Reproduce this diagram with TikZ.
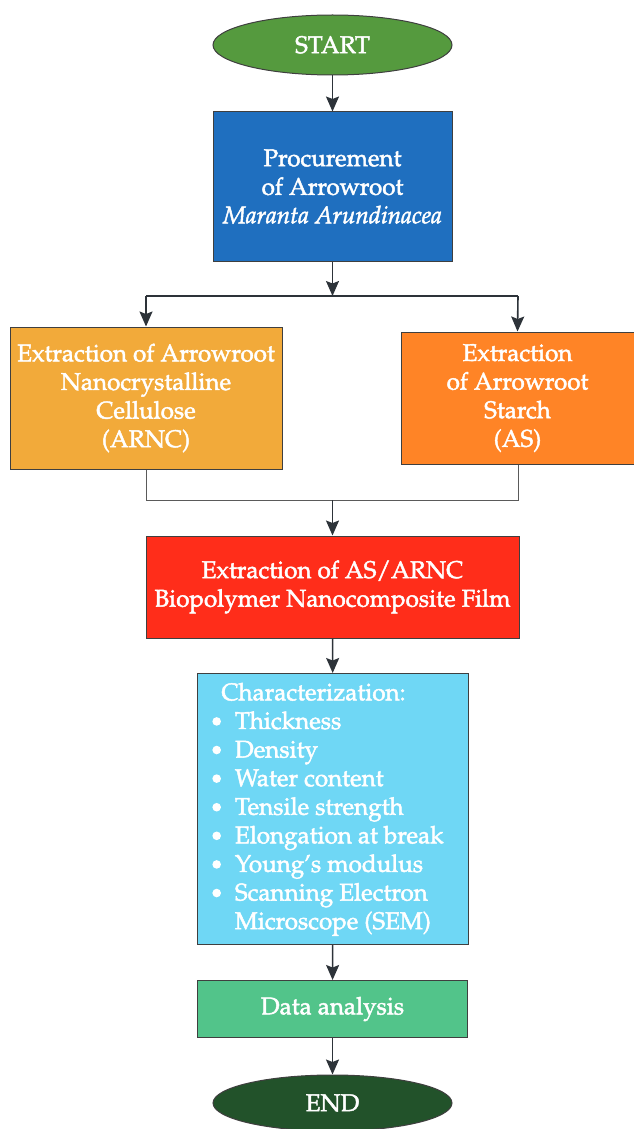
\documentclass[tikz,border=0pt]{standalone}
\usepackage[T1]{fontenc}
\usepackage{mathpazo}
\usetikzlibrary{shapes.geometric,arrows.meta}
\definecolor{cstart}{HTML}{559A3E}
\definecolor{cproc}{HTML}{1F6FBF}
\definecolor{carnc}{HTML}{F2AA3A}
\definecolor{cas}{HTML}{FF8426}
\definecolor{cfilm}{HTML}{FF2D1A}
\definecolor{cchar}{HTML}{6FD7F5}
\definecolor{cdata}{HTML}{52C48A}
\definecolor{cend}{HTML}{22522A}
\definecolor{cedge}{HTML}{3F3F3F}
\definecolor{carrow}{HTML}{2D3339}
\definecolor{cmerge}{HTML}{5A5A5A}
\newcommand\heavytext{\special{pdf:literal direct 2 Tr 0.45 w}}
\newcommand\bigbul{\tikz[baseline=0pt]{\fill[white] (0pt,7.5pt) circle (4.3pt);}}
\tikzset{
  box/.style={draw=cedge, line width=1pt, rectangle, inner sep=0pt, text=white, align=center,
    font=\fontsize{24.2}{28.6}\selectfont\heavytext},
  oval/.style={draw=cedge, line width=1pt, ellipse, inner sep=0pt, text=white, align=center,
    font=\fontsize{24.2}{28.6}\selectfont\heavytext},
  arr/.style={draw=carrow, line width=1.6pt, -{Stealth[length=15pt,width=13pt,inset=2.5pt]}},
  branch/.style={draw=carrow, line width=1.4pt},
  merge/.style={draw=cmerge, line width=1pt},
}
\begin{document}
\begin{tikzpicture}[x=1pt,y=-1pt]
\useasboundingbox (0,0) rectangle (634,1129);
\node[oval, fill=cstart, minimum width=239pt, minimum height=60pt] (start) at (332.5,45) {START};
\node[box, fill=cproc, minimum width=239pt, minimum height=149pt] (proc) at (332.5,186.5)
  {Procurement\\of Arrowroot\\\textit{Maranta Arundinacea}};
\node[box, fill=carnc, minimum width=272pt, minimum height=142pt] (arnc) at (146,398)
  {Extraction of Arrowroot\\Nanocrystalline\\Cellulose\\(ARNC)};
\node[box, fill=cas, minimum width=233pt, minimum height=132pt] (as) at (517.5,398)
  {Extraction\\of Arrowroot\\Starch\\(AS)};
\node[box, fill=cfilm, minimum width=373pt, minimum height=102pt] (film) at (332.5,587)
  {Extraction of AS/ARNC\\Biopolymer Nanocomposite Film};
\node[box, fill=cchar, minimum width=271pt, minimum height=271pt] (char) at (333,809)
  {\begin{tabular}{@{}c@{\hspace{14pt}}l@{}}
   \multicolumn{2}{@{\hspace{9pt}}l@{}}{Characterization:}\\
   \bigbul & Thickness\\
   \bigbul & Density\\
   \bigbul & Water content\\
   \bigbul & Tensile strength\\
   \bigbul & Elongation at break\\
   \bigbul & Young's modulus\\
   \bigbul & Scanning Electron\\
             & Microscope (SEM)
   \end{tabular}\hspace*{10pt}};
\node[box, fill=cdata, minimum width=270pt, minimum height=57pt] (data) at (332.5,1009) {Data analysis};
\node[oval, fill=cend, minimum width=239pt, minimum height=56pt] (end) at (332.5,1103) {END};
\coordinate (bm) at (332.5,296);
\coordinate (bl) at (146,296);
\coordinate (br) at (518,296);
\coordinate (ml) at (146,500);
\coordinate (mr) at (518,500);
\coordinate (mm) at (332.5,500);
\draw[arr] (start) -- (proc);
\draw[arr] (proc) -- (bm);
\draw[branch] (bl) -- (br);
\draw[arr] (bl) -- (arnc.north);
\draw[arr] (br) -- (as.north);
\draw[merge] (arnc.south) -- (ml) -- (mr) -- (as.south -| mr);
\draw[arr] (mm) -- (film.north);
\draw[arr] (film) -- (char);
\draw[arr] (char) -- (data);
\draw[arr] (data) -- (end);
\end{tikzpicture}
\end{document}
